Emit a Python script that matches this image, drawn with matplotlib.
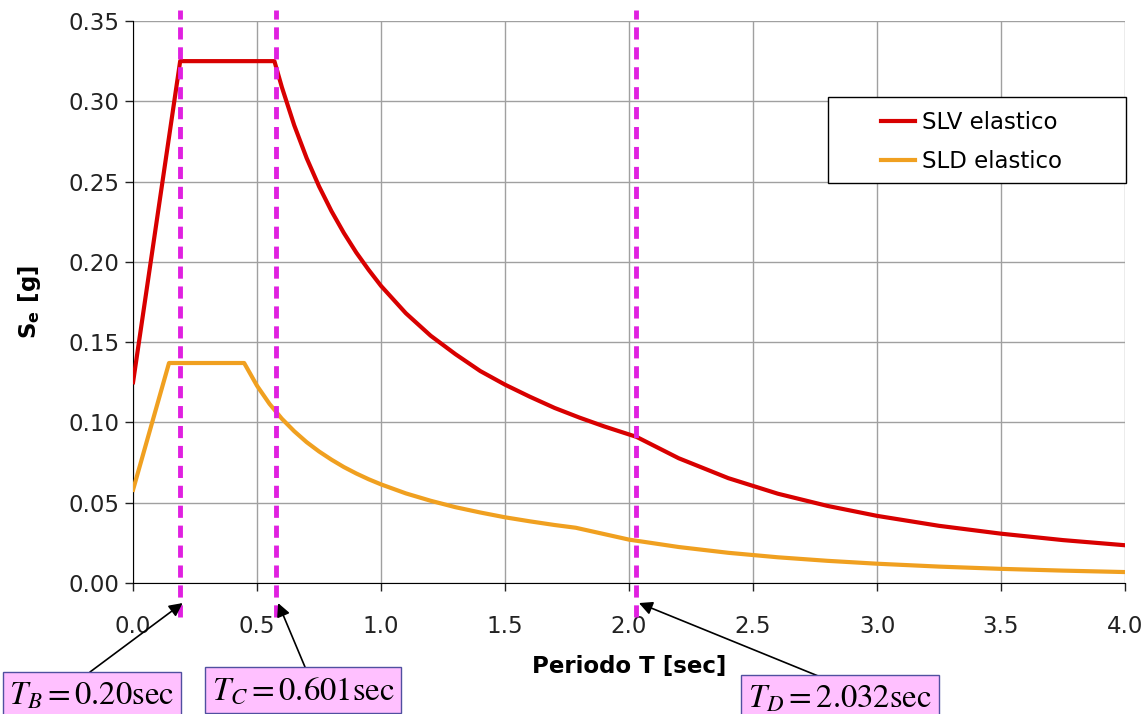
import matplotlib
matplotlib.use('Agg')
import matplotlib.pyplot as plt
from matplotlib.patches import Rectangle

# periodi e ordinate spettrali
t_slv = [0.0, 0.19, 0.57, 0.6, 0.65, 0.7, 0.75, 0.8, 0.85, 0.9, 0.95, 1.0, 1.1, 1.2, 1.3, 1.4,
         1.5, 1.6, 1.7, 1.8, 1.9, 2.03, 2.2, 2.4, 2.6, 2.8, 3.0, 3.25, 3.5, 3.75, 4.0]
se_slv = [0.125, 0.325, 0.325, 0.3088, 0.285, 0.2646, 0.247, 0.2316, 0.218, 0.2058, 0.195, 0.185,
          0.168, 0.154, 0.1425, 0.132, 0.1235, 0.116, 0.109, 0.103, 0.0975, 0.091, 0.0777,
          0.0653, 0.0556, 0.048, 0.0418, 0.0356, 0.0307, 0.0267, 0.0235]

t_sld = [0.0, 0.145, 0.448, 0.5, 0.55, 0.6, 0.65, 0.7, 0.75, 0.8, 0.85, 0.9, 0.95, 1.0, 1.1, 1.2,
         1.3, 1.4, 1.5, 1.6, 1.7, 1.785, 2.0, 2.2, 2.4, 2.6, 2.8, 3.0, 3.25, 3.5, 3.75, 4.0]
se_sld = [0.058, 0.137, 0.137, 0.1228, 0.1116, 0.1023, 0.0945, 0.0877, 0.0819, 0.0768, 0.0722,
          0.0682, 0.0646, 0.0614, 0.0558, 0.0512, 0.0472, 0.0439, 0.0409, 0.0384, 0.0361,
          0.0344, 0.027, 0.0224, 0.0188, 0.016, 0.0138, 0.012, 0.0102, 0.0088, 0.0077, 0.0068]

# periodi caratteristici (posizione delle linee tratteggiate) e relative etichette
t_lines = [0.19, 0.575, 2.03]
line_labels = [r'$T_B = 0.20\mathrm{sec}$', r'$T_C = 0.601\mathrm{sec}$',
               r'$T_D = 2.032\mathrm{sec}$']

plt.rcParams['mathtext.fontset'] = 'stix'

fig = plt.figure(figsize=(11.48, 7.14), dpi=100)
ax = fig.add_axes([0.1159, 0.1835, 0.8641, 0.7871])

ax.plot(t_slv, se_slv, color='#D80000', lw=3, label='SLV elastico', zorder=3)
ax.plot(t_sld, se_sld, color='#F0A020', lw=3, label='SLD elastico', zorder=3)

for t in t_lines:
    ax.plot([t, t], [-0.021, 0.357], color='#E020E0', lw=3.5, dashes=(2.5, 1.6),
            clip_on=False, zorder=4)

ax.set_xlim(0, 4)
ax.set_ylim(0, 0.35)
ax.set_xticks([0.0, 0.5, 1.0, 1.5, 2.0, 2.5, 3.0, 3.5, 4.0])
ax.set_yticks([0.0, 0.05, 0.10, 0.15, 0.20, 0.25, 0.30, 0.35])
ax.xaxis.set_major_formatter(matplotlib.ticker.FormatStrFormatter('%.1f'))
ax.yaxis.set_major_formatter(matplotlib.ticker.FormatStrFormatter('%.2f'))
ax.tick_params(labelsize=16.5, length=6, width=1, colors='#222222', pad=4)
ax.tick_params(axis='x', pad=17)
ax.grid(True, color='#A0A0A0', lw=1)
ax.set_axisbelow(True)
for s in ['top', 'right']:
    ax.spines[s].set_visible(False)
ax.spines['left'].set_color('black')
ax.spines['bottom'].set_color('black')

ax.set_xlabel('Periodo T [sec]', fontsize=16.5, fontweight='bold', labelpad=12)
ax.set_ylabel(r'S$_\mathregular{e}$ [g]', fontsize=16.5, fontweight='bold', labelpad=18)

# cornice della legenda (più larga del contenuto, come nell'originale)
ax.add_patch(Rectangle((0.7006, 0.7117), 0.3004, 0.153, transform=ax.transAxes,
                       fc='white', ec='black', lw=1, clip_on=False, zorder=5))
leg = ax.legend(loc='center', bbox_to_anchor=(0.845, 0.785), fontsize=16.5,
                frameon=False, handlelength=1.5, handletextpad=0.3, labelspacing=0.7)
leg.set_zorder(6)

# riquadri con i periodi caratteristici
box_pos = [(92, 19), (303, 24), (840, 16)]
arrow_start = [(90, 42), (305, 47), (828, 34)]
for t, lab, (bx, by), (sx, sy) in zip(t_lines, line_labels, box_pos, arrow_start):
    ax.annotate('', xy=(t + 0.01, -0.0125), xycoords='data',
                xytext=(sx, sy), textcoords='figure pixels',
                arrowprops=dict(arrowstyle='-|>', color='black', lw=1.2,
                                mutation_scale=20, shrinkA=0, shrinkB=0),
                annotation_clip=False, zorder=5)
    fig.text(bx / 1148, by / 714, lab, ha='center', va='center', fontsize=23.5,
             bbox=dict(boxstyle='square,pad=0.2', fc='#FFC0FF', ec='#5050A0', lw=1),
             zorder=6)

fig.savefig('out.png', dpi=100)
